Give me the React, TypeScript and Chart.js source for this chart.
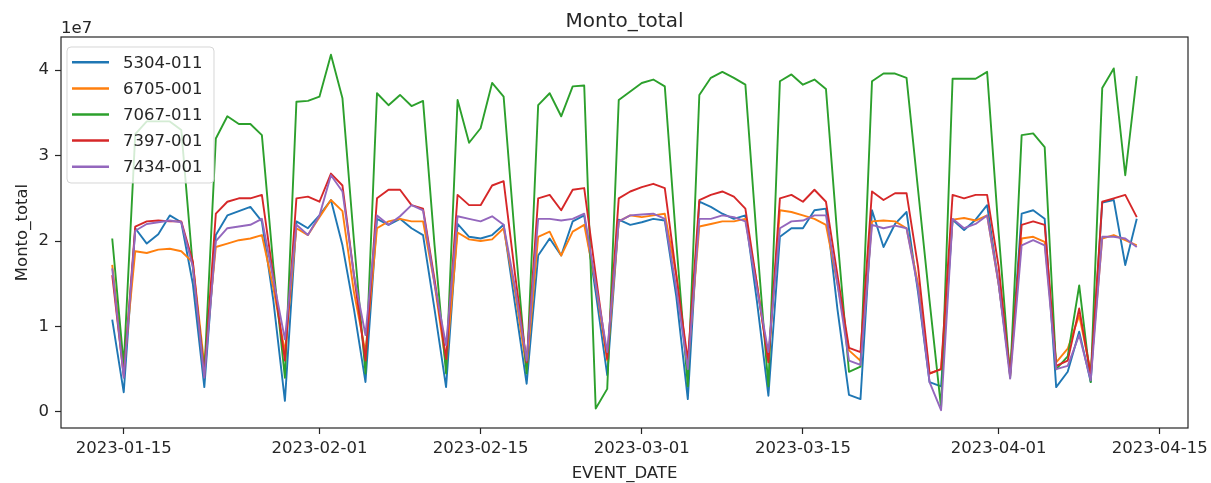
import React, { useEffect, useRef } from 'react';
import { Chart, registerables } from 'chart.js';

Chart.register(...registerables);

const DATES = [
  '2023-01-14','2023-01-15','2023-01-16','2023-01-17','2023-01-18','2023-01-19','2023-01-20','2023-01-21','2023-01-22',
  '2023-01-23','2023-01-24','2023-01-25','2023-01-26','2023-01-27','2023-01-28','2023-01-29',
  '2023-01-30','2023-01-31','2023-02-01','2023-02-02','2023-02-03','2023-02-04','2023-02-05',
  '2023-02-06','2023-02-07','2023-02-08','2023-02-09','2023-02-10','2023-02-11','2023-02-12',
  '2023-02-13','2023-02-14','2023-02-15','2023-02-16','2023-02-17','2023-02-18','2023-02-19',
  '2023-02-20','2023-02-21','2023-02-22','2023-02-23','2023-02-24','2023-02-25','2023-02-26',
  '2023-02-27','2023-02-28','2023-03-01','2023-03-02','2023-03-03','2023-03-04','2023-03-05',
  '2023-03-06','2023-03-07','2023-03-08','2023-03-09','2023-03-10','2023-03-11','2023-03-12',
  '2023-03-13','2023-03-14','2023-03-15','2023-03-16','2023-03-17','2023-03-18','2023-03-19',
  '2023-03-20','2023-03-21','2023-03-22','2023-03-23','2023-03-24','2023-03-25','2023-03-26',
  '2023-03-27','2023-03-28','2023-03-29','2023-03-30','2023-03-31','2023-04-01','2023-04-02',
  '2023-04-03','2023-04-04','2023-04-05','2023-04-06','2023-04-07','2023-04-08','2023-04-09',
  '2023-04-10','2023-04-11','2023-04-12','2023-04-13',
];

// values in units of 1e7
const S_5304_011 = [
  1.08, 0.23, 2.15, 1.97, 2.08, 2.30, 2.22, 1.50, 0.29,
  2.07, 2.30, 2.35, 2.40, 2.23, 1.30, 0.13,
  2.23, 2.15, 2.30, 2.48, 1.95, 1.20, 0.35,
  2.26, 2.19, 2.26, 2.15, 2.07, 1.20, 0.29,
  2.20, 2.05, 2.03, 2.07, 2.19, 1.25, 0.33,
  1.83, 2.03, 1.83, 2.23, 2.30, 1.40, 0.43,
  2.25, 2.19, 2.22, 2.26, 2.24, 1.35, 0.15,
  2.46, 2.40, 2.32, 2.26, 2.30, 1.30, 0.19,
  2.05, 2.15, 2.15, 2.36, 2.38, 1.20, 0.20,
  0.15, 2.36, 1.93, 2.20, 2.34, 1.40, 0.35,
  0.30, 2.25, 2.13, 2.25, 2.42, 1.50, 0.45,
  2.32, 2.36, 2.26, 0.29, 0.47, 0.94, 0.35,
  2.45, 2.48, 1.72, 2.26,
];
const S_6705_001 = [
  1.72, 0.50, 1.88, 1.86, 1.90, 1.91, 1.88, 1.75, 0.55,
  1.93, 1.97, 2.01, 2.03, 2.07, 1.45, 0.70,
  2.15, 2.07, 2.28, 2.48, 2.35, 1.40, 0.70,
  2.15, 2.23, 2.26, 2.23, 2.23, 1.50, 0.55,
  2.10, 2.02, 2.00, 2.02, 2.15, 1.40, 0.50,
  2.05, 2.11, 1.83, 2.11, 2.19, 1.50, 0.60,
  2.23, 2.30, 2.28, 2.30, 2.32, 1.60, 0.55,
  2.17, 2.20, 2.23, 2.23, 2.26, 1.50, 0.60,
  2.36, 2.34, 2.30, 2.26, 2.19, 1.50, 0.72,
  0.60, 2.23, 2.24, 2.23, 2.15, 1.50, 0.45,
  0.50, 2.25, 2.27, 2.24, 2.30, 1.50, 0.50,
  2.03, 2.05, 1.99, 0.58, 0.74, 1.13, 0.47,
  2.03, 2.07, 2.01, 1.95,
];
const S_7067_011 = [
  2.03, 0.55, 3.25, 3.40, 3.40, 3.40, 3.30, 1.70, 0.45,
  3.20, 3.46, 3.37, 3.37, 3.24, 1.70, 0.40,
  3.63, 3.64, 3.69, 4.18, 3.67, 2.00, 0.45,
  3.73, 3.59, 3.71, 3.58, 3.64, 1.95, 0.45,
  3.65, 3.15, 3.32, 3.85, 3.69, 2.00, 0.45,
  3.59, 3.73, 3.46, 3.81, 3.82, 0.04, 0.27,
  3.65, 3.75, 3.85, 3.89, 3.81, 1.98, 0.30,
  3.71, 3.91, 3.98, 3.91, 3.83, 2.00, 0.30,
  3.87, 3.95, 3.83, 3.89, 3.78, 2.04, 0.47,
  0.53, 3.87, 3.96, 3.96, 3.91, 2.60, 1.30,
  0.05, 3.90, 3.90, 3.90, 3.98, 2.10, 0.40,
  3.24, 3.26, 3.10, 0.50, 0.65, 1.48, 0.35,
  3.79, 4.02, 2.77, 3.93,
];
const S_7397_001 = [
  1.60, 0.42, 2.17, 2.23, 2.24, 2.23, 2.23, 1.76, 0.42,
  2.32, 2.46, 2.50, 2.50, 2.54, 1.58, 0.60,
  2.50, 2.52, 2.46, 2.79, 2.65, 1.60, 0.60,
  2.50, 2.60, 2.60, 2.42, 2.38, 1.55, 0.62,
  2.54, 2.42, 2.42, 2.65, 2.70, 1.60, 0.58,
  2.50, 2.54, 2.36, 2.60, 2.62, 1.60, 0.62,
  2.50, 2.58, 2.63, 2.67, 2.62, 1.60, 0.60,
  2.48, 2.54, 2.58, 2.52, 2.38, 1.50, 0.58,
  2.50, 2.54, 2.46, 2.60, 2.46, 1.60, 0.75,
  0.70, 2.58, 2.48, 2.56, 2.56, 1.70, 0.45,
  0.50, 2.54, 2.50, 2.54, 2.54, 1.70, 0.42,
  2.19, 2.23, 2.19, 0.54, 0.60, 1.21, 0.43,
  2.46, 2.50, 2.54, 2.28,
];
const S_7434_001 = [
  1.68, 0.40, 2.12, 2.20, 2.22, 2.24, 2.22, 1.70, 0.40,
  2.00, 2.15, 2.17, 2.19, 2.26, 1.55, 0.85,
  2.19, 2.07, 2.30, 2.77, 2.58, 1.60, 0.90,
  2.30, 2.19, 2.29, 2.42, 2.36, 1.50, 0.78,
  2.29, 2.26, 2.23, 2.29, 2.19, 1.45, 0.60,
  2.26, 2.26, 2.24, 2.26, 2.32, 1.50, 0.70,
  2.23, 2.30, 2.31, 2.32, 2.26, 1.45, 0.50,
  2.26, 2.26, 2.30, 2.28, 2.23, 1.45, 0.70,
  2.15, 2.23, 2.24, 2.30, 2.30, 1.50, 0.60,
  0.55, 2.19, 2.15, 2.18, 2.15, 1.45, 0.35,
  0.02, 2.26, 2.15, 2.20, 2.30, 1.50, 0.39,
  1.95, 2.01, 1.95, 0.50, 0.54, 0.90, 0.37,
  2.05, 2.05, 2.03, 1.93,
];

const SERIES_LABELS = ['5304-011', '6705-001', '7067-011', '7397-001', '7434-001'];
const SERIES_COLORS = ['#1f77b4', '#ff7f0e', '#2ca02c', '#d62728', '#9467bd'];
const X_TICK_LABELS = ['2023-01-15', '2023-02-01', '2023-02-15', '2023-03-01', '2023-03-15', '2023-04-01', '2023-04-15'];
const Y_TICK_LABELS = ['0', '1', '2', '3', '4'];
const Y_UNIT = 1e7;

const TITLE = 'Monto_total';
const X_TITLE = 'EVENT_DATE';
const Y_TITLE = 'Monto_total';
const OFFSET_TEXT = '1e7';

const FONT = '"DejaVu Sans", "Liberation Sans", sans-serif';
const TEXT_COLOR = '#262626';

const dayNum = (s: string) =>
  Math.round((Date.UTC(+s.slice(0, 4), +s.slice(5, 7) - 1, +s.slice(8, 10)) - Date.UTC(2023, 0, 1)) / 86400000);

export default function App() {
  const ref = useRef<HTMLCanvasElement>(null);

  useEffect(() => {
    document.body.style.margin = '0';
    const canvas = ref.current;
    if (!canvas) return;

    const xs = DATES.map(dayNum);
    const valueSets = [S_5304_011, S_6705_001, S_7067_011, S_7397_001, S_7434_001];
    const all = valueSets.flat().map((v) => v * Y_UNIT);
    const yMin = Math.min(...all);
    const yMax = Math.max(...all);
    const yMargin = (yMax - yMin) * 0.05;
    const x0 = xs[0];
    const x1 = xs[xs.length - 1];
    const xMargin = (x1 - x0) * 0.05;
    const xTickDays = X_TICK_LABELS.map(dayNum);
    const yTickVals = Y_TICK_LABELS.map((t) => Number(t) * Y_UNIT);

    const datasets = valueSets.map((vals, k) => ({
      label: SERIES_LABELS[k],
      data: vals.map((v, i) => ({ x: xs[i], y: v * Y_UNIT })),
      borderColor: SERIES_COLORS[k],
      backgroundColor: SERIES_COLORS[k],
      borderWidth: 1.9,
      pointRadius: 0,
      pointHoverRadius: 0,
      tension: 0,
      fill: false,
      borderJoinStyle: 'round' as const,
      order: valueSets.length - k,
    }));

    const overlay = {
      id: 'overlay',
      afterDatasetsDraw(chart: any) {
        const { ctx, chartArea: a } = chart;
        ctx.save();
        ctx.strokeStyle = TEXT_COLOR;
        ctx.lineWidth = 1.2;
        ctx.strokeRect(a.left, a.top, a.right - a.left, a.bottom - a.top);

        const lx = a.left + 6;
        const ly = a.top + 10;
        const lw = 147;
        const lh = 136;
        ctx.beginPath();
        if ((ctx as any).roundRect) (ctx as any).roundRect(lx, ly, lw, lh, 4);
        else ctx.rect(lx, ly, lw, lh);
        ctx.fillStyle = 'rgba(255,255,255,0.8)';
        ctx.fill();
        ctx.strokeStyle = 'rgba(204,204,204,0.8)';
        ctx.lineWidth = 1;
        ctx.stroke();
        ctx.font = `16.5px ${FONT}`;
        ctx.textBaseline = 'middle';
        ctx.textAlign = 'left';
        SERIES_LABELS.forEach((lab, i) => {
          const y = ly + 15.3 + i * 26.1;
          ctx.strokeStyle = SERIES_COLORS[i];
          ctx.lineWidth = 2.5;
          ctx.beginPath();
          ctx.moveTo(lx + 5, y);
          ctx.lineTo(lx + 42, y);
          ctx.stroke();
          ctx.fillStyle = TEXT_COLOR;
          ctx.fillText(lab, lx + 56, y + 1);
        });

        ctx.fillStyle = TEXT_COLOR;
        ctx.textBaseline = 'alphabetic';
        ctx.textAlign = 'center';
        ctx.font = `20px ${FONT}`;
        ctx.fillText(TITLE, (a.left + a.right) / 2, 27);

        ctx.font = `16.5px ${FONT}`;
        ctx.textAlign = 'left';
        ctx.fillText(OFFSET_TEXT, a.left, 33);

        ctx.textAlign = 'center';
        ctx.fillText(X_TITLE, (a.left + a.right) / 2, 478);

        ctx.translate(27, (a.top + a.bottom) / 2);
        ctx.rotate(-Math.PI / 2);
        ctx.fillText(Y_TITLE, 0, 0);
        ctx.restore();
      },
    };

    const chart = new Chart(canvas, {
      type: 'line',
      data: { datasets },
      options: {
        animation: false,
        responsive: false,
        devicePixelRatio: 1,
        events: [],
        layout: { padding: { top: 37, right: 23, left: 0, bottom: 0 } },
        plugins: {
          legend: { display: false },
          title: { display: false },
          tooltip: { enabled: false },
        },
        scales: {
          x: {
            type: 'linear',
            min: x0 - xMargin,
            max: x1 + xMargin,
            afterBuildTicks: (s: any) => {
              s.ticks = xTickDays.map((v) => ({ value: v }));
            },
            afterFit: (s: any) => {
              s.height = 55;
              s.paddingLeft = 0;
              s.paddingRight = 0;
            },
            ticks: {
              autoSkip: false,
              maxRotation: 0,
              minRotation: 0,
              padding: 5,
              color: TEXT_COLOR,
              font: { family: FONT, size: 16.5 },
              callback: (v: any) => {
                const i = xTickDays.indexOf(Number(v));
                return i >= 0 ? X_TICK_LABELS[i] : '';
              },
            },
            grid: { drawOnChartArea: false, drawTicks: true, tickLength: 6, tickColor: TEXT_COLOR, tickWidth: 1.2 },
            border: { display: false },
          },
          y: {
            type: 'linear',
            min: yMin - yMargin,
            max: yMax + yMargin,
            afterBuildTicks: (s: any) => {
              s.ticks = yTickVals.map((v) => ({ value: v }));
            },
            afterFit: (s: any) => {
              s.width = 61;
              s.paddingTop = 0;
              s.paddingBottom = 0;
            },
            ticks: {
              autoSkip: false,
              padding: 6,
              color: TEXT_COLOR,
              font: { family: FONT, size: 16.5 },
              callback: (v: any) => {
                const i = yTickVals.indexOf(Number(v));
                return i >= 0 ? Y_TICK_LABELS[i] : '';
              },
            },
            grid: { drawOnChartArea: false, drawTicks: true, tickLength: 6, tickColor: TEXT_COLOR, tickWidth: 1.2 },
            border: { display: false },
          },
        },
      },
      plugins: [overlay],
    });

    return () => chart.destroy();
  }, []);

  return <canvas ref={ref} width={1211} height={483} style={{ display: 'block', width: 1211, height: 483 }} />;
}
